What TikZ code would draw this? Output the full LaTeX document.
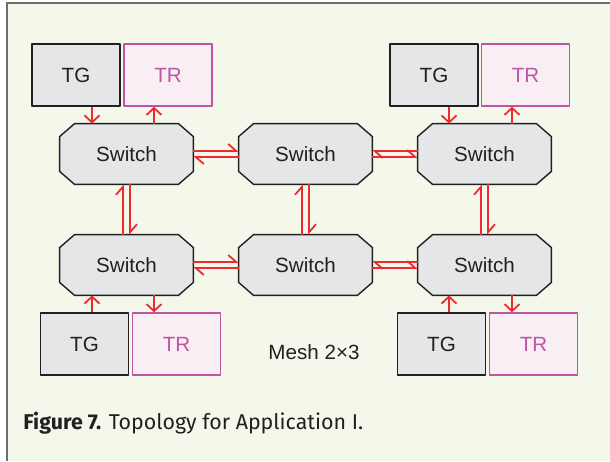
\documentclass[tikz,border=0pt]{standalone}
\usepackage{fontspec}
\setmainfont{Liberation Sans}
\newfontfamily\capfont{Fira Sans}
\usetikzlibrary{positioning,arrows.meta,backgrounds}
\definecolor{bgmint}{HTML}{F4F8EB}
\definecolor{framegray}{HTML}{6D6E70}
\definecolor{boxgray}{HTML}{E5E6E8}
\definecolor{inkdark}{HTML}{231F20}
\definecolor{trpink}{HTML}{FAEEF5}
\definecolor{trmag}{HTML}{BE55A4}
\definecolor{linkred}{HTML}{EE2A2E}
\tikzset{
  switch/.style={rectangle, minimum width=66.5pt, minimum height=30pt, inner sep=0pt, text=inkdark},
  switchline/.style={draw=inkdark, fill=boxgray, line width=0.7pt},
  tgbox/.style={rectangle, draw=inkdark, fill=boxgray, line width=0.7pt,
    minimum width=44pt, minimum height=31pt, inner sep=0pt, text=inkdark},
  trbox/.style={rectangle, draw=trmag, fill=trpink, line width=0.7pt,
    minimum width=44pt, minimum height=31pt, inner sep=0pt, text=trmag},
  flow/.style={draw=linkred, line width=0.9pt, -{Straight Barb[length=3.5pt,width=7.5pt]}},
  hlink/.style={draw=linkred, line width=0.9pt, -{Straight Barb[left,length=4pt,width=7pt]}}
}
\begin{document}
\begin{tikzpicture}[x=0.5pt,y=-0.5pt, font=\fontsize{10.3}{12}\selectfont, line join=round]
  \useasboundingbox (0,0) rectangle (610,461);

  % switches
  \node[switch] (s11) at (126.5,154) {Switch};
  \node[switch] (s12) at (305.5,154) {Switch};
  \node[switch] (s13) at (484.5,154) {Switch};
  \node[switch] (s21) at (126.5,265) {Switch};
  \node[switch] (s22) at (305.5,265) {Switch};
  \node[switch] (s23) at (484.5,265) {Switch};

  \begin{pgfonlayer}{background}
    \fill[white] (0,0) rectangle (610,461);
    \fill[bgmint] (7,3) rectangle (610,461);
    \draw[framegray, line width=0.8pt] (7,461) -- (7,3) -- (610,3);
    \foreach \n in {s11,s12,s13,s21,s22,s23}
      \draw[switchline] ([xshift=7.5pt]\n.north west) -- ([xshift=-7.5pt]\n.north east)
        -- ([yshift=-6.5pt]\n.north east) -- ([yshift=6.5pt]\n.south east)
        -- ([xshift=-7.5pt]\n.south east) -- ([xshift=7.5pt]\n.south west)
        -- ([yshift=6.5pt]\n.south west) -- ([yshift=-6.5pt]\n.north west) -- cycle;
  \end{pgfonlayer}

  % generators and receivers
  \node[tgbox] (tg11) at (76,75) {TG};
  \node[trbox] (tr11) at (168,75) {TR};
  \node[tgbox] (tg13) at (434,75) {TG};
  \node[trbox] (tr13) at (525.5,75) {TR};
  \node[tgbox] (tg21) at (84.5,344) {TG};
  \node[trbox] (tr21) at (176.5,344) {TR};
  \node[tgbox] (tg23) at (441.5,344) {TG};
  \node[trbox] (tr23) at (533.5,344) {TR};

  \node[text=inkdark] (mesh) at (314,352) {Mesh 2×3};
  \node[anchor=west, inner sep=0pt, text=inkdark, font=\capfont\fontsize{10.7}{12}\selectfont] (cap) at (23,423)
    {\textbf{Figure 7.} Topology for Application I.};

  % local ports
  \draw[flow] ([xshift=-17.25pt]s11.north |- tg11.south) -- ([xshift=-17.25pt]s11.north);
  \draw[flow] ([xshift=13.75pt]s11.north) -- ([xshift=13.75pt]s11.north |- tr11.south);
  \draw[flow] ([xshift=-17.75pt]s13.north |- tg13.south) -- ([xshift=-17.75pt]s13.north);
  \draw[flow] ([xshift=13.75pt]s13.north) -- ([xshift=13.75pt]s13.north |- tr13.south);
  \draw[flow] ([xshift=-17.25pt]s21.south |- tg21.north) -- ([xshift=-17.25pt]s21.south);
  \draw[flow] ([xshift=13.75pt]s21.south) -- ([xshift=13.75pt]s21.south |- tr21.north);
  \draw[flow] ([xshift=-17.75pt]s23.south |- tg23.north) -- ([xshift=-17.75pt]s23.south);
  \draw[flow] ([xshift=13.75pt]s23.south) -- ([xshift=13.75pt]s23.south |- tr23.north);

  % mesh links
  \draw[hlink] ([yshift=1.5pt]s11.east) -- ([yshift=1.5pt]s12.west);
  \draw[hlink] ([yshift=-1.5pt]s12.west) -- ([yshift=-1.5pt]s11.east);
  \draw[hlink] ([yshift=1.5pt]s13.west) -- ([yshift=1.5pt]s12.east);
  \draw[hlink] ([yshift=-1.5pt]s12.east) -- ([yshift=-1.5pt]s13.west);
  \draw[hlink] ([yshift=1.5pt]s21.east) -- ([yshift=1.5pt]s22.west);
  \draw[hlink] ([yshift=-1.5pt]s22.west) -- ([yshift=-1.5pt]s21.east);
  \draw[hlink] ([yshift=1.5pt]s23.west) -- ([yshift=1.5pt]s22.east);
  \draw[hlink] ([yshift=-1.5pt]s22.east) -- ([yshift=-1.5pt]s23.west);
  \draw[hlink] ([xshift=-1.75pt]s21.north) -- ([xshift=-1.75pt]s11.south);
  \draw[hlink] ([xshift=1.75pt]s11.south) -- ([xshift=1.75pt]s21.north);
  \draw[hlink] ([xshift=-1.75pt]s22.north) -- ([xshift=-1.75pt]s12.south);
  \draw[hlink] ([xshift=1.75pt]s12.south) -- ([xshift=1.75pt]s22.north);
  \draw[hlink] ([xshift=-1.75pt]s23.north) -- ([xshift=-1.75pt]s13.south);
  \draw[hlink] ([xshift=1.75pt]s13.south) -- ([xshift=1.75pt]s23.north);
\end{tikzpicture}
\end{document}
